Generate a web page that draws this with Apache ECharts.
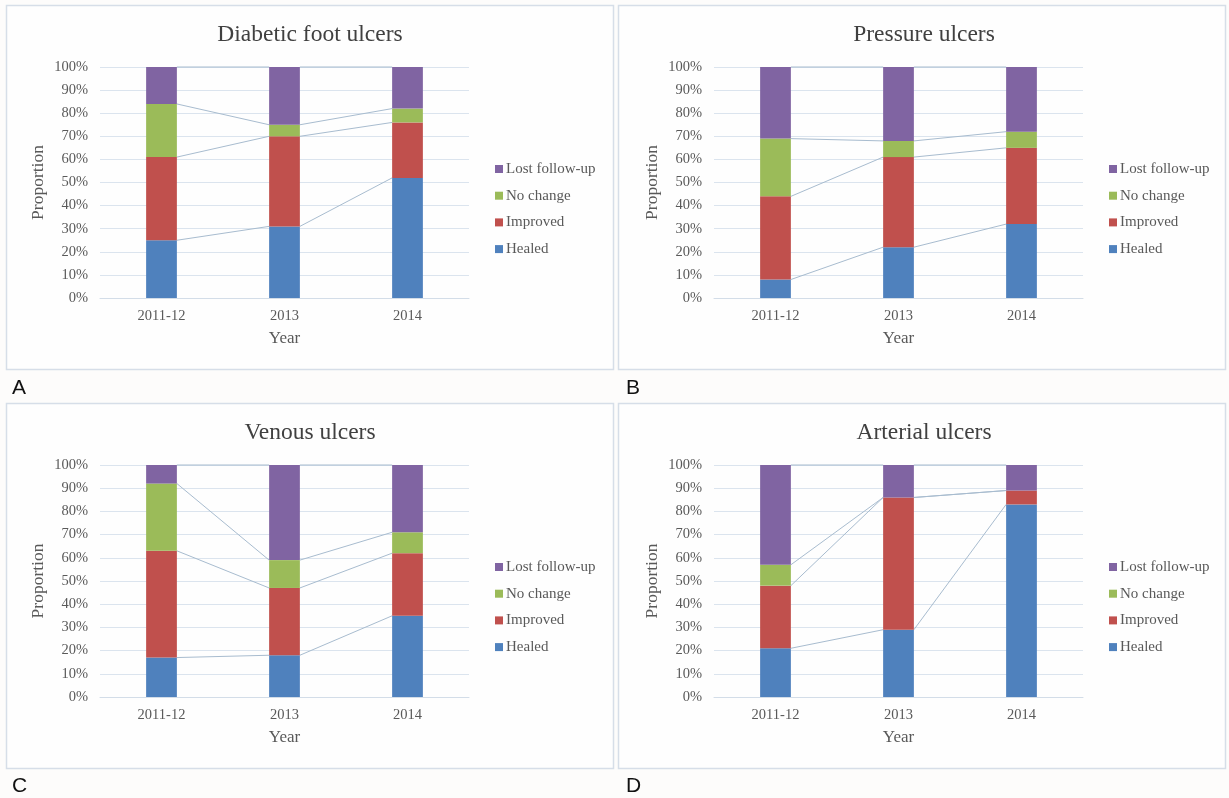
<!DOCTYPE html>
<html><head><meta charset="utf-8">
<script src="https://cdn.jsdelivr.net/npm/echarts@6/dist/echarts.min.js"></script>
<style>html,body{margin:0;padding:0;background:#fdfcfb;} #c{width:1229px;height:798px;}</style>
</head><body><div id="c"></div>
<script>
const categories = ['2011-12', '2013', '2014'];
const seriesNames = ['Healed', 'Improved', 'No change', 'Lost follow-up'];
const panelTitles = ['Diabetic foot ulcers', 'Pressure ulcers', 'Venous ulcers', 'Arterial ulcers'];
const panelLetters = ['A', 'B', 'C', 'D'];
const xAxisName = 'Year';
const yAxisName = 'Proportion';

// Panel A: Diabetic foot ulcers
const healedA = [25, 31, 52];
const improvedA = [36, 39, 24];
const noChangeA = [23, 5, 6];
const lostA = [16, 25, 18];
// Panel B: Pressure ulcers
const healedB = [8, 22, 32];
const improvedB = [36, 39, 33];
const noChangeB = [25, 7, 7];
const lostB = [31, 32, 28];
// Panel C: Venous ulcers
const healedC = [17, 18, 35];
const improvedC = [46, 29, 27];
const noChangeC = [29, 12, 9];
const lostC = [8, 41, 29];
// Panel D: Arterial ulcers
const healedD = [21, 29, 83];
const improvedD = [27, 57, 6];
const noChangeD = [9, 0, 0];
const lostD = [43, 14, 11];

const panelData = [
  [healedA, improvedA, noChangeA, lostA],
  [healedB, improvedB, noChangeB, lostB],
  [healedC, improvedC, noChangeC, lostC],
  [healedD, improvedD, noChangeD, lostD]
];

const colors = ['#4F81BD', '#C0504D', '#9BBB59', '#8064A2'];
const serif = '"Liberation Serif", "Times New Roman", serif';
const barFrac = 0.25;
const offs = [[0, 0], [614, 0], [0, 398], [614, 398]];
const boxes = [[6, 5, 607, 364], [618, 5, 607, 364], [6, 403, 607, 365], [618, 403, 607, 365]];

const grid = [], xAxis = [], yAxis = [], title = [], legend = [], series = [], graphic = [];

panelData.forEach((sets, p) => {
  const [ox, oy] = offs[p];
  const b = boxes[p];
  graphic.push({ type: 'rect', shape: { x: b[0] + 0.5, y: b[1] + 0.5, width: b[2], height: b[3] }, style: { fill: '#fefefe', stroke: '#d6dee8', lineWidth: 1.5 }, z: -10 });
  graphic.push({ type: 'text', left: 12 + ox, top: 378 + oy, style: { text: panelLetters[p], fontSize: 21, fontFamily: '"Liberation Sans", Arial, sans-serif', fill: '#111' } });
  grid.push({ left: 100 + ox, top: 67 + oy, width: 369, height: 231 + (p >= 2 ? 1 : 0) });
  xAxis.push({
    type: 'category', gridIndex: p, data: categories,
    axisTick: { show: false },
    axisLine: { lineStyle: { color: '#d3dde8', width: 1 } },
    axisLabel: { fontFamily: serif, fontSize: 14.5, color: '#595959', margin: 11 },
    name: xAxisName, nameLocation: 'middle', nameGap: 32,
    nameTextStyle: { fontFamily: serif, fontSize: 17, color: '#595959' }
  });
  yAxis.push({
    type: 'value', gridIndex: p, min: 0, max: 100, interval: 10,
    axisLine: { show: false }, axisTick: { show: false },
    splitLine: { lineStyle: { color: '#dbe4ee', width: 1 } },
    axisLabel: { formatter: '{value}%', fontFamily: serif, fontSize: 14.5, color: '#595959', margin: 12 },
    name: yAxisName, nameLocation: 'middle', nameGap: 53, nameRotate: 90,
    nameTextStyle: { fontFamily: serif, fontSize: 17.5, color: '#595959' }
  });
  title.push({
    text: panelTitles[p], left: 305 + ox, top: 18 + oy, textAlign: 'center',
    textStyle: { fontFamily: serif, fontSize: 23.5, fontWeight: 'normal', color: '#404040' }
  });
  legend.push({
    orient: 'vertical', left: 495 + ox, top: 161 + oy, padding: 0,
    itemWidth: 8, itemHeight: 8, itemGap: 10.7, icon: 'rect',
    data: seriesNames.slice().reverse(),
    textStyle: { fontFamily: serif, fontSize: 15, lineHeight: 16, color: '#595959', padding: [0, 0, 0, -2] },
    selectedMode: false
  });
  sets.forEach((vals, s) => {
    series.push({
      type: 'bar', name: seriesNames[s], xAxisIndex: p, yAxisIndex: p,
      stack: 'panel' + p, barWidth: (barFrac * 100) + '%', data: vals,
      itemStyle: { color: colors[s] }, z: 3
    });
  });
  // Excel-style series lines linking the stack segment tops
  const cum = [];
  let run = categories.map(() => 0);
  sets.forEach(vals => { run = run.map((r, i) => r + vals[i]); cum.push(run.slice()); });
  const lineData = [];
  cum.forEach(c => { for (let i = 0; i < categories.length - 1; i++) lineData.push([i, c[i], c[i + 1]]); });
  series.push({
    type: 'custom', xAxisIndex: p, yAxisIndex: p, silent: true, z: 2,
    data: lineData, encode: { x: 0, y: [1, 2] },
    renderItem(params, api) {
      const i = api.value(0);
      const a = api.coord([i, api.value(1)]);
      const bb = api.coord([i + 1, api.value(2)]);
      const bw = api.size([1, 0])[0] * barFrac;
      return { type: 'line', shape: { x1: a[0] + bw / 2, y1: a[1], x2: bb[0] - bw / 2, y2: bb[1] }, style: { stroke: '#a8bccf', lineWidth: 1 } };
    }
  });
});

const chart = echarts.init(document.getElementById('c'), null, { renderer: 'canvas' });
chart.setOption({ animation: false, backgroundColor: '#fdfcfb', grid, xAxis, yAxis, title, legend, series, graphic });
</script>
</body></html>
